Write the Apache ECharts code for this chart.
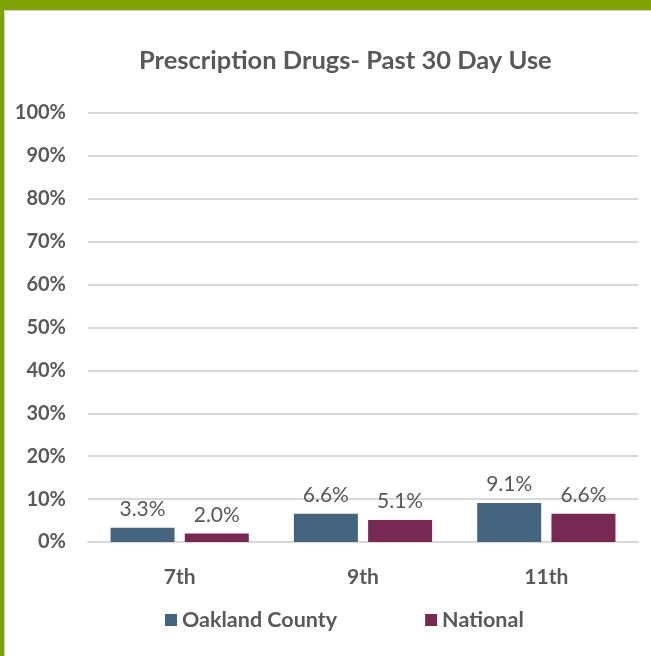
<!DOCTYPE html>
<html><head><meta charset="utf-8">
<script src="https://cdn.jsdelivr.net/npm/echarts@6/dist/echarts.min.js"></script>
<style>
html,body{margin:0;padding:0;width:651px;height:656px;overflow:hidden;background:#fff;}
#frame{position:absolute;left:0;top:0;width:651px;height:656px;background:#7fa304;}
#inner{position:absolute;left:4px;top:10px;width:647px;height:646px;background:#fff;border-left:1px solid #d0d0d0;border-top:1px solid #d0d0d0;box-sizing:border-box;}
#c{position:absolute;left:0;top:0;width:651px;height:656px;}
</style></head><body>
<div id="frame"></div><div id="inner"></div>
<div id="c"></div>
<script>
const categories = ['7th', '9th', '11th'];
const oakland = [3.3, 6.6, 9.1];
const national = [2.0, 5.1, 6.6];
const seriesNames = ['Oakland County', 'National'];

const font = 'Lato, "Open Sans", sans-serif';
const chart = echarts.init(document.getElementById('c'), null, {renderer: 'canvas'});
const label = {show: true, position: 'top', distance: 8, formatter: p => p.value.toFixed(1) + '%', color: '#595959', fontSize: 21, fontFamily: font};
chart.setOption({
  animation: false,
  title: {text: 'Prescription Drugs- Past 30 Day Use', left: 134, top: 43, itemGap: 0,
    textStyle: {color: '#595959', fontSize: 25.5, fontWeight: 'bold', fontFamily: font}},
  legend: {top: 604, left: 160, itemWidth: 12, itemHeight: 12, itemGap: 88, icon: 'rect',
    textStyle: {color: '#595959', fontSize: 21.5, fontFamily: font, fontWeight: 'bold'}},
  grid: {left: 88, right: 13, top: 113, bottom: 114},
  xAxis: {type: 'category', data: categories,
    axisLine: {show: true, lineStyle: {color: '#d9d9d9', width: 2}}, axisTick: {show: false},
    axisLabel: {color: '#595959', fontSize: 21, fontFamily: font, fontWeight: 'bold', margin: 25}},
  yAxis: {type: 'value', min: 0, max: 100, interval: 10,
    axisLabel: {formatter: '{value}%', color: '#595959', fontSize: 20, fontFamily: font, fontWeight: 'bold', margin: 22},
    splitLine: {lineStyle: {color: '#d9d9d9', width: 2}}, axisLine: {show: false}, axisTick: {show: false}},
  series: [
    {name: seriesNames[0], type: 'bar', data: oakland, barWidth: 64, barGap: '16%', itemStyle: {color: '#44647f'}, label: label},
    {name: seriesNames[1], type: 'bar', data: national, barWidth: 64, itemStyle: {color: '#772953'}, label: label}
  ]
});
</script></body></html>
